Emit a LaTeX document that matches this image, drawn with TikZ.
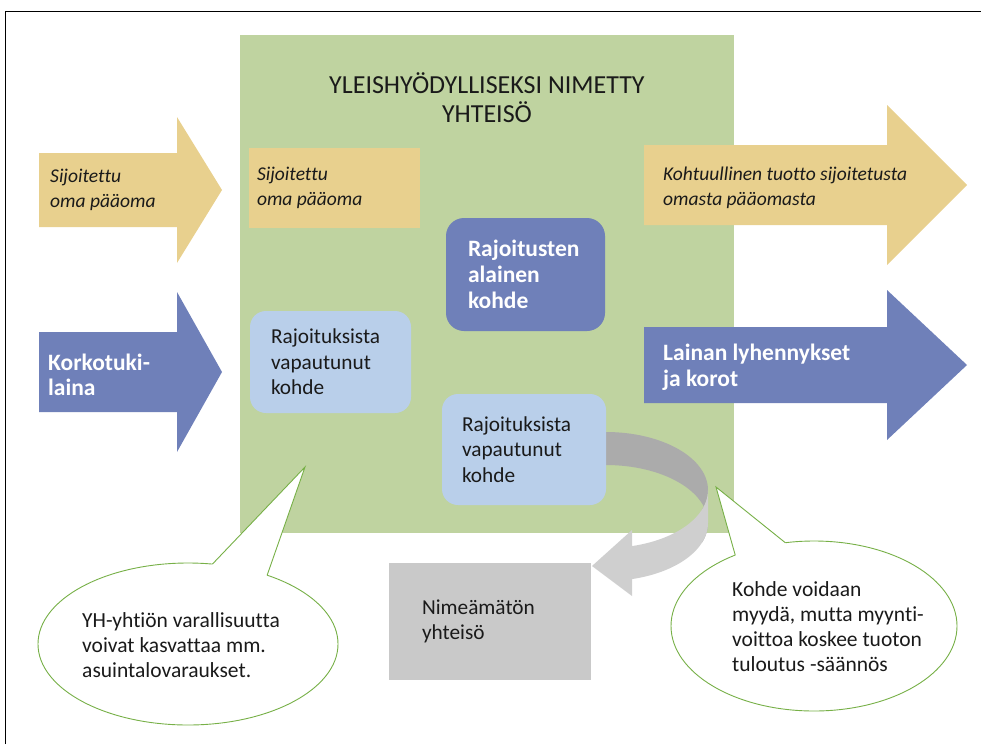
\documentclass[tikz,border=0pt]{standalone}
\usepackage{fontspec}
\setmainfont{Carlito}[Ligatures=NoCommon]
\usepackage{tikz}
\usetikzlibrary{positioning,shapes.geometric}
\definecolor{vihrea}{RGB}{191,211,160}
\definecolor{keltainen}{RGB}{232,208,142}
\definecolor{tummasininen}{RGB}{111,128,185}
\definecolor{vaaleasininen}{RGB}{185,207,234}
\definecolor{harmaa}{RGB}{201,201,201}
\definecolor{rengastumma}{RGB}{171,171,171}
\definecolor{rengasvaalea}{RGB}{207,207,207}
\definecolor{kuplaviiva}{RGB}{119,176,71}
\definecolor{teksti}{RGB}{26,26,26}
\tikzstyle{kehys} = [draw=black, line width=1.5pt]
\tikzstyle{yhteisolaatikko} = [fill=vihrea, minimum width=494pt, minimum height=498pt, inner sep=0pt]
\tikzstyle{otsikko} = [align=center, text=teksti, inner sep=0pt, font=\fontsize{26}{29}\selectfont]
\tikzstyle{laatikko} = [rectangle, align=flush left, text=teksti, inner ysep=0pt, font=\fontsize{21.3}{25.5}\selectfont]
\tikzstyle{kursiivilaatikko} = [laatikko, fill=keltainen, font=\fontsize{19.5}{25}\selectfont\itshape]
\tikzstyle{vaaleakohde} = [laatikko, fill=vaaleasininen, rounded corners=16pt]
\tikzstyle{tummakohde} = [laatikko, fill=tummasininen, rounded corners=18pt, text=white, font=\fontsize{23.5}{26}\selectfont\bfseries]
\tikzstyle{nuolikursiivi} = [align=left, inner sep=0pt, text=teksti, font=\fontsize{19.5}{25}\selectfont\itshape]
\tikzstyle{nuolilihava} = [align=left, inner sep=0pt, text=white, font=\fontsize{23.5}{25.5}\selectfont\bfseries]
\tikzstyle{kupla} = [ellipse, fill=white, draw=kuplaviiva, line width=0.9pt, inner sep=0pt, outer sep=0pt]
\tikzstyle{kuplateksti} = [align=left, inner sep=0pt, text=teksti, font=\fontsize{21.5}{25}\selectfont]

\begin{document}
\begin{tikzpicture}[x=1pt,y=-1pt]
	\useasboundingbox (0,0) rectangle (981,744);
	\draw[kehys] (5.5,744) -- (5.5,11.5) -- (981,11.5);
	\node[yhteisolaatikko] (yhteiso) at (487,284) {};
	\node[otsikko, below=38pt] (otsikko) at (yhteiso.north) {YLEISHYÖDYLLISEKSI NIMETTY\\YHTEISÖ};
	\node[kursiivilaatikko, minimum width=171pt, minimum height=80pt, text width=155pt, inner xsep=8pt] (omaSisalla) at (334.5,188) {Sijoitettu\\oma pääoma};
	\node[tummakohde, minimum width=159pt, minimum height=113pt, text width=115pt, inner xsep=22pt] (alainen) at (525.5,274.5) {Rajoitusten\\alainen\\kohde};
	\node[vaaleakohde, minimum width=161pt, minimum height=102pt, text width=119pt, inner xsep=21pt] (vapaa) at (330.5,362) {Rajoituksista\\vapautunut\\kohde};
	\fill[rengastumma] plot[domain=90:-20, samples=40] ({606+102*cos(\x)},{490-58*sin(\x)}) -- plot[domain=-20:90, samples=40] ({606+102*cos(\x)},{523-58*sin(\x)}) -- cycle;
	\node[vaaleakohde, minimum width=164pt, minimum height=111pt, text width=124pt, inner xsep=20pt] (vapaaMyyty) at (524,449.5) {Rajoituksista\\vapautunut\\kohde};
	\fill[rengasvaalea] plot[domain=0:-75.2, samples=40] ({606+102*cos(\x)},{490-58*sin(\x)}) -- (632,530) -- (592,566) -- (632,596) -- plot[domain=-75.2:0, samples=40] ({606+102*cos(\x)},{523-58*sin(\x)}) -- cycle;
	\node[laatikko, fill=harmaa, minimum width=202pt, minimum height=117pt, text width=136pt, inner xsep=33pt] (nimeamaton) at (490,621.5) {Nimeämätön\\yhteisö};

	\fill[keltainen] (39,153) -- (177,153) -- (177,117) -- (222,190) -- (177,263) -- (177,227) -- (39,227) -- cycle;
	\node[nuolikursiivi, right=11pt] (omaSisaan) at (39,190) {Sijoitettu\\oma pääoma};
	\fill[tummasininen] (39,332) -- (177,332) -- (177,292) -- (222,372) -- (177,452) -- (177,412) -- (39,412) -- cycle;
	\node[nuolilihava, right=9pt] (laina) at (39,375) {Korkotuki-\\laina};
	\fill[keltainen] (644,145) -- (887,145) -- (887,105) -- (967,185) -- (887,265) -- (887,225) -- (644,225) -- cycle;
	\node[nuolikursiivi, right=19pt] (tuotto) at (644,188) {Kohtuullinen tuotto sijoitetusta\\omasta pääomasta};
	\fill[tummasininen] (644,327) -- (887,327) -- (887,290) -- (967,365) -- (887,440) -- (887,403) -- (644,403) -- cycle;
	\node[nuolilihava, right=19pt] (lyhennykset) at (644,367) {Lainan lyhennykset\\ja korot};

	\node[kupla, minimum width=300pt, minimum height=162pt] (kupla) at (188,644) {};
	\coordinate (kuplanKarki) at (305,467);
	\fill[white] (kupla.73.5) -- (kuplanKarki) -- (kupla.41.9) -- (kupla.center) -- cycle;
	\draw[kuplaviiva, line width=0.9pt, line join=miter] (kupla.73.5) -- (kuplanKarki) -- (kupla.41.9);
	\node[kuplateksti, right=0pt] (kuplaTeksti) at (82,645) {YH-yhtiön varallisuutta\\voivat kasvattaa mm.\\asuintalovaraukset.};

	\node[kupla, minimum width=286pt, minimum height=170pt] (myyntiKupla) at (814,626) {};
	\coordinate (myyntiKarki) at (716,487);
	\fill[white] (myyntiKupla.138.4) -- (myyntiKarki) -- (myyntiKupla.109) -- (myyntiKupla.center) -- cycle;
	\draw[kuplaviiva, line width=0.9pt, line join=miter] (myyntiKupla.138.4) -- (myyntiKarki) -- (myyntiKupla.109);
	\node[kuplateksti, right=0pt] (myyntiTeksti) at (732,627) {Kohde voidaan\\myydä, mutta myynti-\\voittoa koskee tuoton\\tuloutus -säännös};
\end{tikzpicture}
\end{document}
